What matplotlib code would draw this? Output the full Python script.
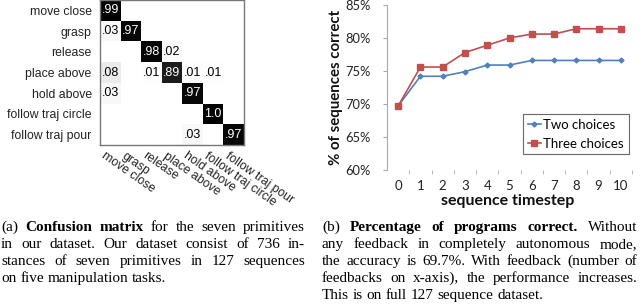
import numpy as np
from matplotlib import pyplot as plt
from matplotlib.ticker import FixedLocator, FuncFormatter
from matplotlib.transforms import ScaledTranslation

# confusion matrix (rows = true primitive, cols = predicted)
primitives = ["move close", "grasp", "release", "place above",
              "hold above", "follow traj circle", "follow traj pour"]
conf = np.array([
    [.99, 0, 0, 0, 0, 0, 0],
    [.03, .97, 0, 0, 0, 0, 0],
    [0, 0, .98, .02, 0, 0, 0],
    [.08, 0, .01, .89, .01, .01, 0],
    [.03, 0, 0, 0, .97, 0, 0],
    [0, 0, 0, 0, 0, 1.0, 0],
    [0, 0, 0, 0, .03, 0, .97],
])

# accuracy vs number of feedbacks
steps = np.arange(11)
two_choices = [69.7, 74.2, 74.2, 74.9, 75.9, 75.9, 76.6, 76.6, 76.6, 76.6, 76.6]
three_choices = [69.7, 75.6, 75.6, 77.8, 78.9, 80.0, 80.6, 80.6, 81.4, 81.4, 81.4]

caption_a = [
    "(a) **Confusion matrix** for the seven primitives",
    "in our dataset. Our dataset consist of 736 in-",
    "stances of seven primitives in 127 sequences",
    "on five manipulation tasks.",
]
caption_b = [
    "(b) **Percentage of programs correct.** Without",
    "any feedback in completely autonomous mode,",
    "the accuracy is 69.7%. With feedback (number of",
    "feedbacks on x-axis), the performance increases.",
    "This is on full 127 sequence dataset.",
]

W, H = 640, 306
fig = plt.figure(figsize=(W / 100, H / 100), dpi=100)

# ---- (a) confusion matrix
ax1 = fig.add_axes([100 / W, 1 - 145 / H, 144 / W, 145 / H])
ax1.imshow(conf, cmap="gray_r", vmin=0, vmax=1, aspect="auto")
for i in range(7):
    for j in range(7):
        v = conf[i, j]
        if v == 0:
            continue
        s = "1.0" if v == 1 else ("%.2f" % v)[1:]
        ax1.text(j, i, s, ha="center", va="center", fontsize=9,
                 family="Liberation Sans", color="white" if v > 0.5 else "black")
ax1.set_yticks(range(7))
ax1.set_yticklabels(primitives, fontsize=8.8, family="Liberation Sans", color="#222222")
ax1.tick_params(axis="y", length=0, pad=6)
ax1.set_xticks([])
off = ScaledTranslation(-4 / 100, -5 / 100, fig.dpi_scale_trans)
for j, name in enumerate(primitives):
    ax1.text(j, 6.5, name, rotation=-35, rotation_mode="anchor", ha="left", va="top",
             fontsize=8.8, family="Liberation Sans", color="#222222",
             transform=ax1.transData + off)
for sp in ax1.spines.values():
    sp.set_color("#777777")
    sp.set_linewidth(1.0)

# ---- (b) accuracy curve
ax2 = fig.add_axes([387 / W, 1 - 170 / H, (632 - 387) / W, 165 / H])
ax2.plot(steps, two_choices, color="#4F81BD", marker="D", markersize=2.5,
         linewidth=1.2, label="Two choices")
ax2.plot(steps, three_choices, color="#C0504D", marker="s", markersize=4.5,
         linewidth=1.2, label="Three choices")
ax2.set_xlim(-0.5, 10.5)
ax2.set_ylim(60, 85)
ax2.set_yticks(range(60, 86, 5))
ax2.yaxis.set_major_formatter(FuncFormatter(lambda v, p: "%d%%" % v))
ax2.set_xticks(steps)
ax2.xaxis.set_minor_locator(FixedLocator(steps + 0.5))
ax2.tick_params(axis="x", which="major", length=0, pad=7, labelsize=9.5, labelcolor="#222222")
ax2.tick_params(axis="x", which="minor", length=3, color="#aaaaaa", direction="out")
ax2.tick_params(axis="y", length=3, color="#aaaaaa", pad=9, labelsize=9.3, labelcolor="#222222")
for lab in ax2.get_xticklabels() + ax2.get_yticklabels():
    lab.set_family("Lato")
for k in ["top", "right", "bottom"]:
    ax2.spines[k].set_visible(False)
ax2.spines["left"].set_color("#aaaaaa")
ax2.set_ylabel("% of sequences correct", fontsize=10.8, fontweight="bold", family="Lato",
               color="#111111", va="center")
ax2.yaxis.set_label_coords(-0.21, 0.5)
ax2.set_xlabel("sequence timestep", fontsize=11.5, fontweight="bold", family="Lato",
               color="#111111", va="center")
ax2.xaxis.set_label_coords(0.494, -0.19)
leg = ax2.legend(loc="upper left", bbox_to_anchor=(523 / W, 1 - 114 / H),
                 bbox_transform=fig.transFigure, fancybox=False, frameon=True,
                 prop={"family": "Lato", "size": 9.5}, handlelength=1.0,
                 handletextpad=0.2, borderpad=0.35, labelspacing=0.55, borderaxespad=0)
leg.get_frame().set_edgecolor("#444444")
leg.get_frame().set_linewidth(0.8)

# ---- captions, justified like the paper
FS = 11
renderer = fig.canvas.get_renderer()


def caption_line(text, x0, x1, base, justify):
    words = []
    for k, seg in enumerate(text.split("**")):
        for w in seg.split():
            words.append((w, k % 2 == 1))
    arts = []
    for w, b in words:
        t = fig.text(0, 0, w, fontsize=FS, family="Liberation Serif",
                     fontweight="bold" if b else "normal", ha="left", va="baseline")
        arts.append(t)
    widths = [t.get_window_extent(renderer).width for t in arts]
    if justify and len(arts) > 1:
        gap = (x1 - x0 - sum(widths)) / (len(arts) - 1)
    else:
        gap = FS * 100 / 72 * 0.25
    x = x0
    for t, w in zip(arts, widths):
        t.set_position((x / W, 1 - base / H))
        x += w + gap


for lines, x0, x1 in [(caption_a, 1, 305), (caption_b, 322, 637)]:
    for n, line in enumerate(lines):
        caption_line(line, x0, x1, 231 + 17 * n, n < len(lines) - 1)

fig.savefig("out.png", dpi=100)
